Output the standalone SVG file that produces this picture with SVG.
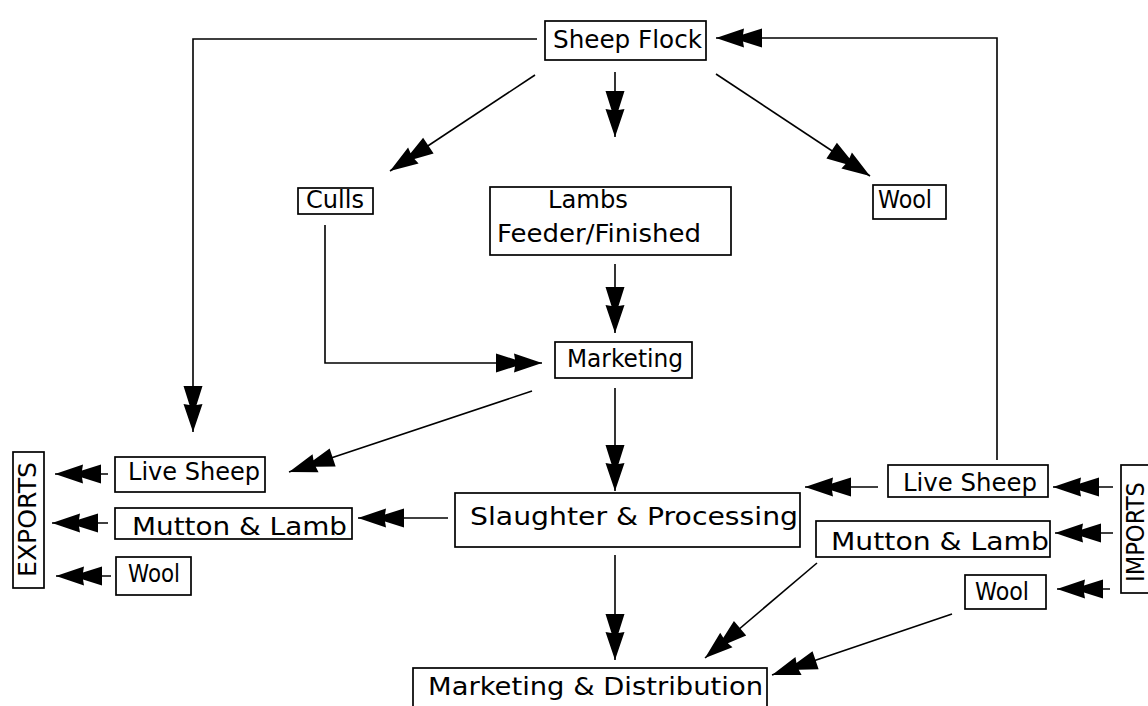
<svg xmlns="http://www.w3.org/2000/svg" width="1148" height="706" viewBox="0 0 1148 706">
<style>
.box{fill:#fff;stroke:#000;stroke-width:1.7}
.t{font-family:"DejaVu Sans","Liberation Sans",sans-serif;font-size:24px;fill:#000}
.c{fill:none;stroke:#000;stroke-width:1.6;marker-end:url(#dbl)}
</style>
<defs>
<marker id="dbl" markerUnits="userSpaceOnUse" viewBox="-50 -12 52 24" refX="0" refY="0" markerWidth="52" markerHeight="24" orient="auto">
<path d="M0,0 L-28,-9.5 L-27,-3.5 L-46,-9.5 L-46,9.5 L-27,3.5 L-28,9.5 Z" fill="#000"/>
</marker>
</defs>
<rect width="1148" height="706" fill="#fff"/>
<g id="connectors">
<path class="c" d="M537,39 H193 V432"/>
<path class="c" d="M997,460 V38 H716"/>
<path class="c" d="M535,75 L390,171"/>
<path class="c" d="M615,72 V137"/>
<path class="c" d="M716,74 L870,176"/>
<path class="c" d="M615,264 V333"/>
<path class="c" d="M325,225 V363 H542"/>
<path class="c" d="M532,391 L289,472"/>
<path class="c" d="M615,388 V491"/>
<path class="c" d="M448,518 H358"/>
<path class="c" d="M108,474 H55"/>
<path class="c" d="M108,523 H52"/>
<path class="c" d="M111,576 H56"/>
<path class="c" d="M878,487 H805"/>
<path class="c" d="M1113,487 H1053"/>
<path class="c" d="M1113,533 H1055"/>
<path class="c" d="M1110,589 H1057"/>
<path class="c" d="M817,563 L705,658"/>
<path class="c" d="M952,614 L772,675"/>
<path class="c" d="M615,555 V660"/>
</g>
<g id="sheep-flock"><rect class="box" x="545" y="21" width="161" height="39"/><text class="t" x="553" y="48" font-size="25" textLength="149" lengthAdjust="spacingAndGlyphs">Sheep Flock</text></g>
<g id="culls"><rect class="box" x="298" y="188" width="75" height="26"/><text class="t" x="306" y="208" textLength="58" lengthAdjust="spacingAndGlyphs">Culls</text></g>
<g id="lambs"><rect class="box" x="490" y="187" width="241" height="68"/><text class="t" x="548" y="208" textLength="80" lengthAdjust="spacingAndGlyphs">Lambs</text><text class="t" x="497" y="242" textLength="204" lengthAdjust="spacingAndGlyphs">Feeder/Finished</text></g>
<g id="wool-top"><rect class="box" x="873" y="185" width="73" height="34"/><text class="t" x="878" y="208" textLength="54" lengthAdjust="spacingAndGlyphs">Wool</text></g>
<g id="marketing"><rect class="box" x="555" y="342" width="137" height="36"/><text class="t" x="567" y="367" textLength="116" lengthAdjust="spacingAndGlyphs">Marketing</text></g>
<g id="slaughter"><rect class="box" x="455" y="493" width="345" height="54"/><text class="t" x="470" y="525" font-size="27" textLength="328" lengthAdjust="spacingAndGlyphs">Slaughter &amp; Processing</text></g>
<g id="exp-live-sheep"><rect class="box" x="115" y="457" width="150" height="35"/><text class="t" x="128" y="480" textLength="132" lengthAdjust="spacingAndGlyphs">Live Sheep</text></g>
<g id="exp-mutton"><rect class="box" x="115" y="508" width="237" height="31"/><text class="t" x="132" y="535" textLength="215" lengthAdjust="spacingAndGlyphs">Mutton &amp; Lamb</text></g>
<g id="exp-wool"><rect class="box" x="116" y="557" width="75" height="38"/><text class="t" x="128" y="582" textLength="52" lengthAdjust="spacingAndGlyphs">Wool</text></g>
<g id="exports"><rect class="box" x="13" y="452" width="31" height="136"/><text class="t" transform="translate(36,577) rotate(-90)" font-size="21" textLength="115" lengthAdjust="spacingAndGlyphs">EXPORTS</text></g>
<g id="imp-live-sheep"><rect class="box" x="888" y="465" width="160" height="32"/><text class="t" x="903" y="491" textLength="134" lengthAdjust="spacingAndGlyphs">Live Sheep</text></g>
<g id="imp-mutton"><rect class="box" x="816" y="521" width="234" height="36"/><text class="t" x="831" y="550" textLength="218" lengthAdjust="spacingAndGlyphs">Mutton &amp; Lamb</text></g>
<g id="imp-wool"><rect class="box" x="965" y="575" width="81" height="34"/><text class="t" x="975" y="600" textLength="54" lengthAdjust="spacingAndGlyphs">Wool</text></g>
<g id="imports"><rect class="box" x="1121" y="465" width="40" height="128"/><text class="t" transform="translate(1144,582) rotate(-90)" font-size="21" textLength="100" lengthAdjust="spacingAndGlyphs">IMPORTS</text></g>
<g id="marketing-distribution"><rect class="box" x="413" y="668" width="354" height="50"/><text class="t" x="428" y="695" font-size="27" textLength="335" lengthAdjust="spacingAndGlyphs">Marketing &amp; Distribution</text></g>
</svg>
